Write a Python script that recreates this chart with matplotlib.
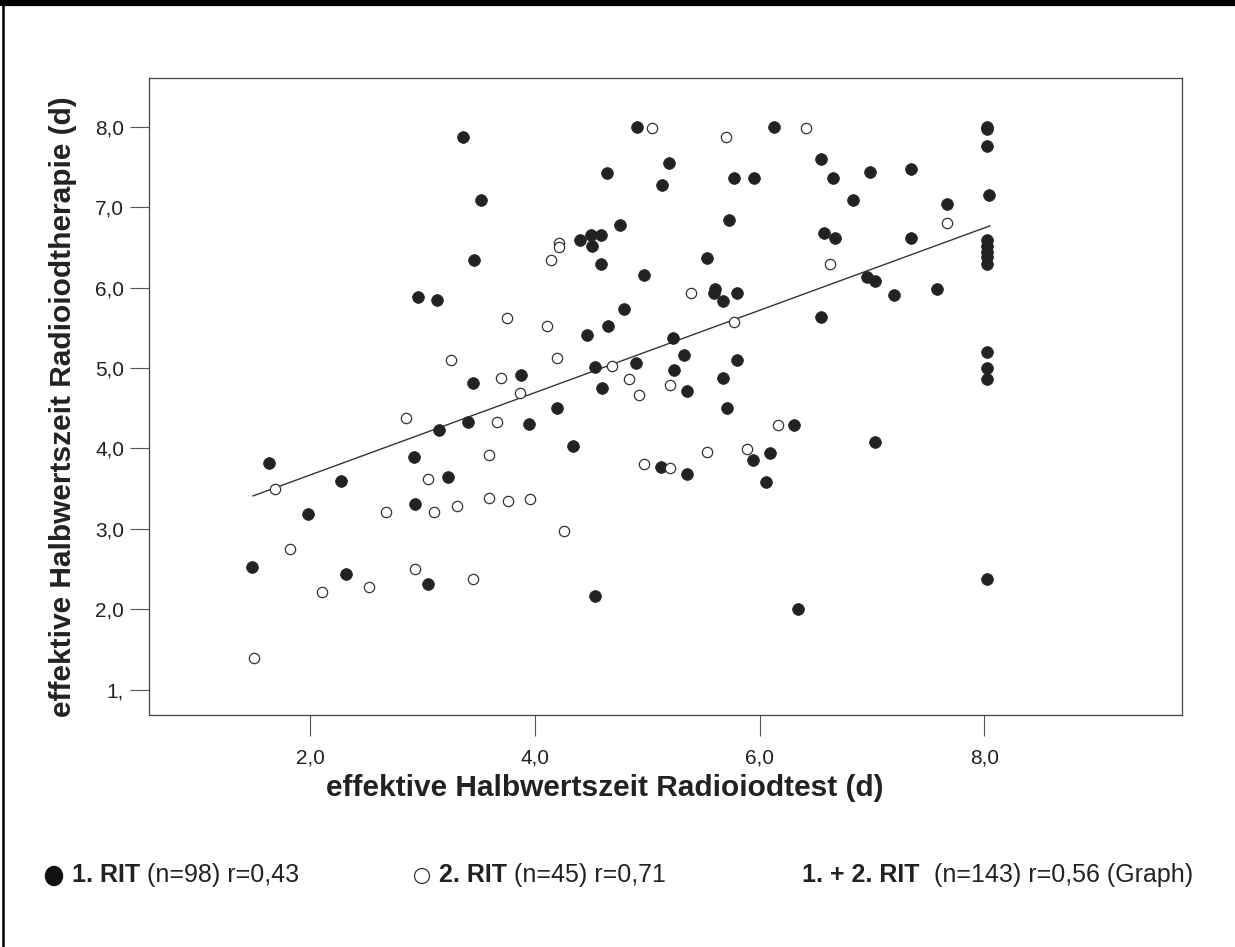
import matplotlib
matplotlib.use('Agg')
import matplotlib.pyplot as plt
from matplotlib.lines import Line2D
from matplotlib.patches import Ellipse

plt.rcParams['font.family'] = ['Liberation Sans', 'DejaVu Sans']

# 1. RIT (filled markers)
rit1_x = [3.36, 4.91, 6.13, 5.19, 4.64, 5.13, 5.77, 5.95, 3.52, 5.73, 4.76, 4.40,
          4.50, 4.51, 4.59, 4.59, 3.46, 4.97, 5.53, 2.96, 3.13, 5.60, 5.59, 5.67,
          5.80, 4.79, 4.65, 4.46, 5.23, 4.53, 4.90, 5.33, 5.80, 3.45, 3.88, 5.24,
          4.60, 5.35, 5.67, 4.20, 5.71, 3.15, 3.40, 3.95,
          1.63, 2.27, 2.92, 3.23, 4.34, 1.98, 2.93, 1.48, 2.32, 3.05, 4.53,
          6.55, 6.31, 7.03, 5.94, 6.09, 5.12, 5.35, 6.06, 6.34,
          8.02, 8.02, 8.02, 8.04, 8.02, 8.02, 8.02, 8.02, 8.02, 8.02, 8.02, 8.02, 8.02,
          6.98, 7.35, 6.83, 7.67, 7.35, 6.96, 7.03, 7.20, 7.58,
          6.55, 6.65, 6.57, 6.67]
rit1_y = [7.87, 8.00, 8.00, 7.55, 7.43, 7.28, 7.36, 7.36, 7.09, 6.84, 6.78, 6.59,
          6.66, 6.52, 6.66, 6.29, 6.35, 6.16, 6.37, 5.88, 5.85, 5.99, 5.93, 5.83,
          5.94, 5.74, 5.53, 5.41, 5.38, 5.01, 5.06, 5.16, 5.10, 4.81, 4.91, 4.98,
          4.75, 4.72, 4.88, 4.50, 4.50, 4.23, 4.33, 4.30,
          3.82, 3.59, 3.90, 3.64, 4.03, 3.18, 3.31, 2.53, 2.44, 2.31, 2.16,
          5.63, 4.29, 4.08, 3.86, 3.94, 3.77, 3.68, 3.58, 2.00,
          8.00, 7.98, 7.76, 7.16, 6.60, 6.52, 6.45, 6.38, 6.30, 5.20, 5.00, 4.87, 2.37,
          7.44, 7.48, 7.09, 7.04, 6.62, 6.14, 6.09, 5.91, 5.99,
          7.60, 7.36, 6.68, 6.62]

# 2. RIT (open markers)
rit2_x = [5.04, 5.70, 4.21, 4.21, 4.14, 3.75, 4.11, 5.39, 5.77, 3.25, 4.20, 4.69,
          3.70, 3.87, 4.84, 4.93, 5.20, 2.85, 3.66,
          1.69, 3.59, 3.05, 2.67, 3.10, 3.31, 3.59, 3.76, 3.96, 4.26, 1.82, 2.93,
          3.45, 2.10, 2.52, 1.50,
          6.16, 5.53, 5.89, 4.97, 5.20,
          7.67, 6.41, 6.63]
rit2_y = [7.99, 7.87, 6.56, 6.51, 6.34, 5.62, 5.53, 5.93, 5.58, 5.10, 5.13, 5.03,
          4.88, 4.69, 4.86, 4.67, 4.79, 4.38, 4.33,
          3.50, 3.92, 3.62, 3.21, 3.21, 3.28, 3.38, 3.35, 3.37, 2.97, 2.75, 2.50,
          2.37, 2.22, 2.28, 1.39,
          4.29, 3.96, 3.99, 3.81, 3.76,
          6.80, 7.99, 6.30]

# regression line (1. + 2. RIT)
fit_x = [1.49, 8.05]
fit_y = [3.41, 6.77]

x_ticks = [2, 4, 6, 8]
x_tick_labels = ['2,0', '4,0', '6,0', '8,0']
y_ticks = [1, 2, 3, 4, 5, 6, 7, 8]
y_tick_labels = ['1,', '2,0', '3,0', '4,0', '5,0', '6,0', '7,0', '8,0']

W, H = 1235, 947
fig = plt.figure(figsize=(W / 100, H / 100), dpi=100)
fig.patch.set_facecolor('white')

def fx(px):
    return px / W

def fy(py):
    return 1 - py / H

ax = fig.add_axes([fx(149), fy(715), (1182 - 149) / W, (715 - 78) / H])
ax.set_xlim(0.564, 9.76)
ax.set_ylim(0.684, 8.61)

ax.plot(fit_x, fit_y, color='#333333', lw=1.0, zorder=2)
ax.scatter(rit1_x, rit1_y, s=72, c='#222222', edgecolors='#222222', linewidths=0.5, zorder=3)
ax.scatter(rit2_x, rit2_y, s=55, facecolors='white', edgecolors='#333333', linewidths=0.9, zorder=4)

ax.set_xticks(x_ticks)
ax.set_xticklabels(x_tick_labels)
ax.set_yticks(y_ticks)
ax.set_yticklabels(y_tick_labels)
ax.tick_params(axis='x', direction='out', length=15, width=0.8, color='#555555',
               labelsize=15, pad=9, labelcolor='#222222')
ax.tick_params(axis='y', direction='out', length=14, width=0.8, color='#555555',
               labelsize=15, pad=4, labelcolor='#222222')
for sp in ax.spines.values():
    sp.set_color('#444444')
    sp.set_linewidth(0.9)

fig.text(fx(605), fy(788), 'effektive Halbwertszeit Radioiodtest (d)', ha='center', va='center',
         fontsize=21.5, fontweight='bold', color='#222222')
fig.text(fx(63), fy(407), 'effektive Halbwertszeit Radioiodtherapie (d)', ha='center', va='center',
         rotation=90, fontsize=21.5, fontweight='bold', color='#222222')

# legend row
renderer = fig.canvas.get_renderer()

def seq(x0, parts, ypix=875):
    x = x0
    for txt, weight in parts:
        t = fig.text(fx(x), fy(ypix), txt, ha='left', va='center', fontsize=18,
                     fontweight=weight, color='#222222')
        bb = t.get_window_extent(renderer)
        x = bb.x1

fig.add_artist(Ellipse((fx(54), fy(876)), 17 / W, 19 / H, transform=fig.transFigure,
                       facecolor='#111111', edgecolor='#111111'))
seq(72, [('1. RIT', 'bold'), (' (n=98) r=0,43', 'normal')])
fig.add_artist(Ellipse((fx(422), fy(876)), 15 / W, 15 / H, transform=fig.transFigure,
                       facecolor='white', edgecolor='#333333', lw=0.9))
seq(439, [('2. RIT', 'bold'), (' (n=45) r=0,71', 'normal')])
seq(802, [('1. + 2. RIT', 'bold'), ('  (n=143) r=0,56 (Graph)', 'normal')])

# outer frame (top and left)
fig.add_artist(Line2D([0, 1], [fy(3), fy(3)], transform=fig.transFigure, color='black', lw=4.5))
fig.add_artist(Line2D([fx(3), fx(3)], [0, 1], transform=fig.transFigure, color='black', lw=1.8))

fig.savefig('out.png', dpi=100)
